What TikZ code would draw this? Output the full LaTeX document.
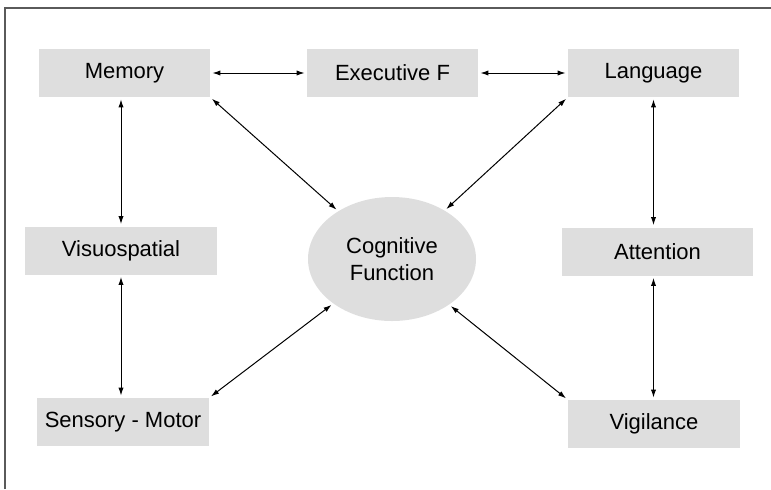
\documentclass[tikz,border=0pt]{standalone}
\usepackage{fontspec}
\setmainfont{Liberation Sans}
\usetikzlibrary{arrows.meta,shapes.geometric}
\definecolor{boxgray}{RGB}{222,222,222}
\definecolor{framegray}{RGB}{90,90,90}
\begin{document}
\begin{tikzpicture}[x=0.5pt,y=-0.5pt,
    box/.style={fill=boxgray, inner sep=0pt, minimum height=24pt, font=\fontsize{11}{13}\selectfont},
    link/.style={{Latex[length=4pt,width=2.6pt]}-{Latex[length=4pt,width=2.6pt]}, line width=0.5pt, shorten <=1pt, shorten >=1pt}]
        \useasboundingbox (0,0) rectangle (771,489);
        \draw[framegray, line width=0.8pt] (5,489) -- (5,8) -- (771,8);
        \node[box, minimum width=85.5pt] (mem) at (124.5,73) {Memory};
        \node[box, minimum width=85.5pt] (exec) at (392.5,73) {Executive F};
        \node[box, minimum width=85.5pt] (lang) at (653.5,73) {Language};
        \node[box, minimum width=96pt] (vis) at (121,250.5) {Visuospatial};
        \node[box, minimum width=95.5pt] (att) at (657.5,251.5) {Attention};
        \node[box, minimum width=86pt] (sen) at (123,422) {Sensory - Motor};
        \node[box, minimum width=86pt] (vig) at (654,424) {Vigilance};
        \node[ellipse, fill=boxgray, inner sep=0pt, minimum width=84pt, minimum height=62pt, align=center, font=\fontsize{11}{13.5}\selectfont] (cog) at (392,259) {Cognitive\\Function};
        \draw[link] (mem) -- (exec);
        \draw[link] (exec) -- (lang);
        \draw[link] (vis |- mem.south) -- (vis.north);
        \draw[link] (vis.south) -- (sen.north -| vis.south);
        \draw[link] (lang.south) -- (lang.south |- att.north);
        \draw[link] (lang.south |- att.south) -- (lang.south |- vig.north);
        \draw[link] (mem.south east) -- (cog);
        \draw[link] (lang.south west) -- (cog);
        \draw[link] (sen.north east) -- (cog);
        \draw[link] (vig.north west) -- (cog);
    \end{tikzpicture}
\end{document}
